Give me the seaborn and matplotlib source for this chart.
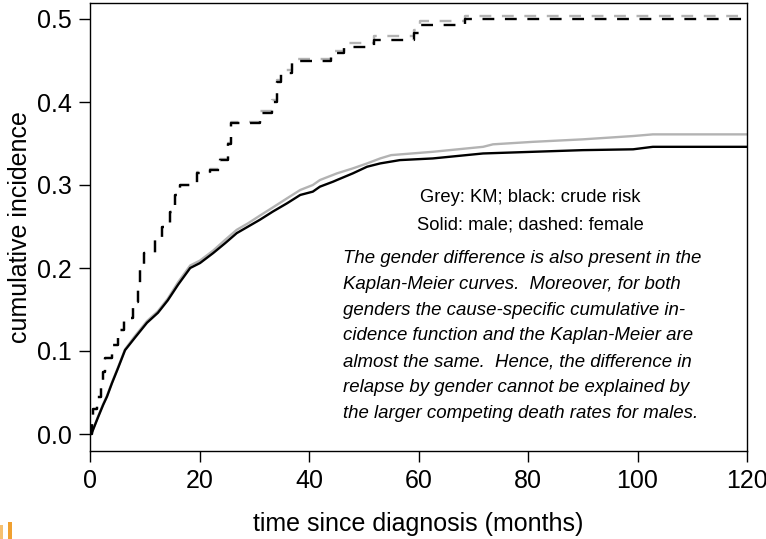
import numpy as np
import pandas as pd
import matplotlib
matplotlib.use("Agg")
import matplotlib.pyplot as plt
from matplotlib.patches import Rectangle
import seaborn as sns

# ---- data ----
male_crude_t = [0, 0.37, 1.46, 2.4, 3.1, 4.0, 5.1, 6.4, 8.2, 10.4, 12.4, 14.2, 16.1, 18.3,
                20.1, 22.5, 24.7, 26.8, 28.9, 31.0, 33.4, 36.0, 38.4, 40.7, 42.0, 44.4,
                45.1, 48.0, 50.6, 53.0, 56.6, 62.6, 71.8, 80.9, 90.0, 99.2, 102.8, 120]
male_crude_v = [0, 0.002, 0.020, 0.035, 0.045, 0.061, 0.079, 0.101, 0.116, 0.134, 0.146,
                0.161, 0.180, 0.200, 0.206, 0.218, 0.230, 0.242, 0.250, 0.258, 0.268,
                0.278, 0.288, 0.292, 0.298, 0.304, 0.306, 0.314, 0.322, 0.326, 0.330,
                0.332, 0.338, 0.340, 0.342, 0.343, 0.346, 0.346]

male_km_t = [0, 0.37, 1.46, 2.4, 3.1, 4.0, 5.1, 6.4, 8.2, 10.4, 12.4, 14.2, 16.1, 18.3,
             20.1, 22.5, 24.7, 26.8, 28.9, 31.0, 33.4, 36.0, 38.4, 40.7, 42.0, 45.1,
             48.0, 50.6, 53.0, 55.0, 62.6, 71.8, 73.6, 80.9, 90.0, 99.2, 102.8, 120]
male_km_v = [0, 0.002, 0.021, 0.036, 0.046, 0.062, 0.080, 0.102, 0.118, 0.136, 0.148,
             0.163, 0.183, 0.203, 0.209, 0.221, 0.234, 0.246, 0.254, 0.263, 0.273,
             0.284, 0.294, 0.300, 0.306, 0.314, 0.320, 0.326, 0.332, 0.336, 0.340,
             0.346, 0.349, 0.352, 0.355, 0.359, 0.361, 0.361]

female_crude_t = [0, 0.3, 0.6, 1.2, 2.0, 2.4, 2.7, 4.1, 5.1, 6.3, 7.9, 8.8, 9.1, 9.9,
                  11.9, 13.1, 14.6, 15.5, 16.4, 19.5, 21.9, 23.7, 25.2, 25.8, 31.0,
                  33.2, 34.2, 34.9, 36.9, 44.0, 46.4, 51.9, 59.2, 60.3, 68.5, 120]
female_crude_v = [0, 0.012, 0.030, 0.045, 0.060, 0.075, 0.092, 0.107, 0.125, 0.140,
                  0.159, 0.180, 0.200, 0.218, 0.234, 0.250, 0.268, 0.288, 0.300, 0.315,
                  0.318, 0.330, 0.350, 0.375, 0.387, 0.400, 0.424, 0.435, 0.449, 0.459,
                  0.466, 0.475, 0.483, 0.493, 0.500, 0.500]

female_km_t = [0, 0.3, 0.6, 1.2, 2.0, 2.4, 2.7, 4.1, 5.1, 6.3, 7.9, 8.8, 9.1, 9.9,
               11.9, 13.1, 14.6, 15.5, 16.4, 19.5, 21.9, 23.7, 25.2, 25.8, 31.0,
               33.2, 34.2, 34.9, 36.9, 44.0, 46.4, 51.9, 59.2, 60.3, 68.5, 120]
female_km_v = [0, 0.012, 0.030, 0.045, 0.060, 0.075, 0.092, 0.107, 0.125, 0.140,
               0.159, 0.180, 0.200, 0.218, 0.234, 0.250, 0.268, 0.288, 0.300, 0.316,
               0.319, 0.331, 0.351, 0.376, 0.389, 0.402, 0.427, 0.438, 0.452, 0.462,
               0.471, 0.480, 0.487, 0.497, 0.504, 0.504]

x_ticks = [0, 20, 40, 60, 80, 100, 120]
y_ticks = [0.0, 0.1, 0.2, 0.3, 0.4, 0.5]
y_tick_labels = ["0.0", "0.1", "0.2", "0.3", "0.4", "0.5"]

legend_lines = ["Grey: KM; black: crude risk", "Solid: male; dashed: female"]
note_lines = [
    "The gender difference is also present in the",
    "Kaplan-Meier curves.  Moreover, for both",
    "genders the cause-specific cumulative in-",
    "cidence function and the Kaplan-Meier are",
    "almost the same.  Hence, the difference in",
    "relapse by gender cannot be explained by",
    "the larger competing death rates for males.",
]

# ---- plotting ----
sns.set_style("white")
plt.rcParams["font.family"] = ["Liberation Sans", "DejaVu Sans"]
plt.rcParams["text.color"] = "black"
plt.rcParams["axes.labelcolor"] = "black"
plt.rcParams["xtick.color"] = "black"
plt.rcParams["ytick.color"] = "black"

W, H = 766, 539
fig = plt.figure(figsize=(W / 100, H / 100), dpi=100)
ax = fig.add_axes([90 / W, 1 - 451 / H, (747 - 90) / W, (451 - 3) / H])

GREY = "#b3b3b3"
LW = 1.7
dash = (5, 4.5)

def draw(t, v, color, dashed):
    df = pd.DataFrame({"t": t, "v": v})
    kw = dict(data=df, x="t", y="v", ax=ax, color=color, linewidth=LW,
              estimator=None, sort=False)
    if dashed:
        kw["linestyle"] = (0, dash)
        kw["drawstyle"] = "steps-post"
    sns.lineplot(**kw)

draw(female_km_t, female_km_v, GREY, True)
draw(male_km_t, male_km_v, GREY, False)
draw(female_crude_t, female_crude_v, "black", True)
draw(male_crude_t, male_crude_v, "black", False)

ax.set_xlim(0, 120)
ax.set_ylim((434 - 451) / 830, (434 - 3) / 830)
ax.set_xticks(x_ticks)
ax.set_yticks(y_ticks)
ax.set_yticklabels(y_tick_labels)
ax.tick_params(axis="both", direction="out", length=8, width=1, colors="black",
               labelsize=18, pad=5, bottom=True, left=True)
for s in ax.spines.values():
    s.set_color("black")
    s.set_linewidth(1.0)
ax.set_xlabel("time since diagnosis (months)", fontsize=18, labelpad=14, color="black")
ax.set_ylabel("cumulative incidence", fontsize=18, labelpad=4, color="black")

for i, s in enumerate(legend_lines):
    fig.text(530 / W, 1 - (197 + 28 * i) / H, s, ha="center", va="center",
             fontsize=13.2, color="black")
for i, s in enumerate(note_lines):
    fig.text(343 / W, 1 - (258.5 + 25.8 * i) / H, s, ha="left", va="center",
             fontsize=13.4, style="italic", color="black")

# small cropped logo fragment at bottom-left
fig.add_artist(Rectangle((0 / W, 0), 3 / W, 14 / H, transform=fig.transFigure,
                         color="#f6c070", lw=0))
fig.add_artist(Rectangle((8 / W, 0), 4 / W, 17 / H, transform=fig.transFigure,
                         color="#f0a030", lw=0))

fig.savefig("out.png", dpi=100)
